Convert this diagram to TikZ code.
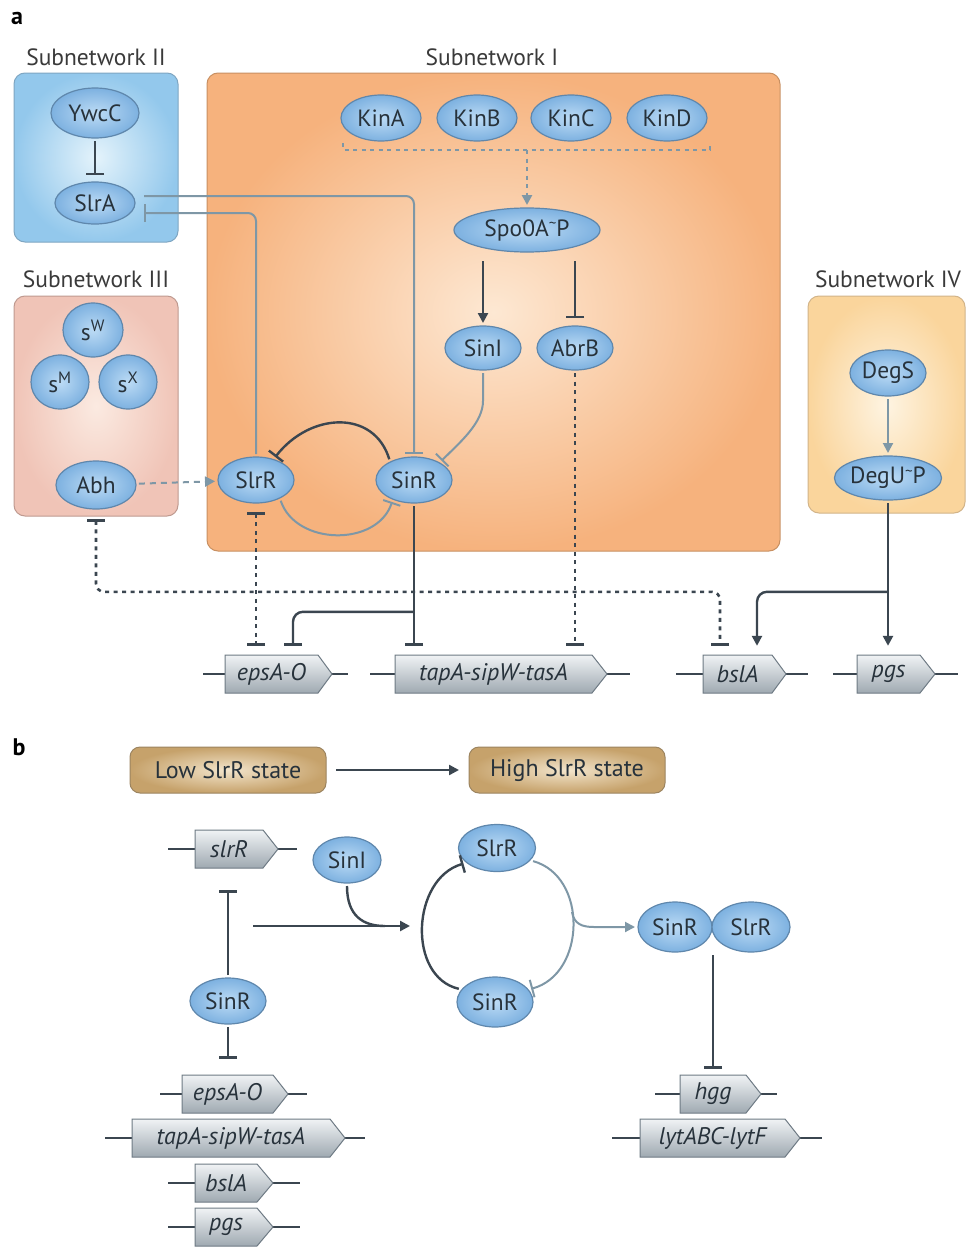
\documentclass[tikz,border=0pt]{standalone}
\usepackage{fontspec}
\setmainfont{PT Sans}
\usetikzlibrary{arrows.meta,shapes.geometric,calc}
\definecolor{dk}{HTML}{3B4650}
\definecolor{gb}{HTML}{7E97A6}
\definecolor{txt}{HTML}{27323B}
\definecolor{protout}{HTML}{7DB1E0}
\definecolor{protin}{HTML}{BCDBF5}
\definecolor{protb}{HTML}{5F87AC}
\definecolor{genetop}{HTML}{F0F3F5}
\definecolor{genebot}{HTML}{9FA9B1}
\definecolor{geneb}{HTML}{6E7A84}
\definecolor{blueout}{HTML}{93C8EC}
\definecolor{bluein}{HTML}{E4F3FB}
\definecolor{blueb}{HTML}{7FA6C2}
\definecolor{orout}{HTML}{F6B27D}
\definecolor{orin}{HTML}{FDE8D3}
\definecolor{orb}{HTML}{C89062}
\definecolor{pkout}{HTML}{F0C4B7}
\definecolor{pkin}{HTML}{FBEAE1}
\definecolor{pkb}{HTML}{BF9A90}
\definecolor{ylout}{HTML}{FAD59C}
\definecolor{ylin}{HTML}{FEF4E2}
\definecolor{ylb}{HTML}{D2B489}
\definecolor{tnout}{HTML}{C6A26B}
\definecolor{tnin}{HTML}{F3E5CC}
\definecolor{tnb}{HTML}{9C8460}
\definecolor{labc}{HTML}{3A3A3A}
\newcommand\tld{\raisebox{0.3em}{\fontsize{15}{15}\selectfont\textasciitilde}}
% name, x1, x2, yc, tip, lineL, lineR, text
\newcommand\genebox[8]{%
  \draw[geneline] (#6,#4) -- (#2,#4) (#5,#4) -- (#7,#4);
  \draw[geneshape] (#2,#4-19) -- (#3,#4-19) -- (#5,#4) -- (#3,#4+19) -- (#2,#4+19) -- cycle;
  \pgfmathsetmacro\gw{#3-#2}%
  \node[genetext, minimum width=\gw pt] (#1) at ({(#2+#3)/2},#4) {#8};
}
\begin{document}
\begin{tikzpicture}[x=1pt,y=-1pt,
  prot/.style={ellipse, draw=protb, line width=1.2pt, inner color=protin, outer color=protout,
    minimum width=#1, minimum height=46pt, inner sep=0pt, outer sep=3pt, text=txt,
    font=\fontsize{23.5}{23.5}\selectfont},
  prot/.default=76pt,
  subbox/.style n args={3}{draw=#3, line width=1pt, rounded corners=11pt, inner color=#2, outer color=#1, inner sep=0pt},
  sublabel/.style={text=labc, font=\fontsize{23.5}{23.5}\selectfont, inner sep=0pt},
  paneltag/.style={font=\fontsize{24}{24}\selectfont\bfseries, inner sep=0pt},
  genetext/.style={inner sep=0pt, minimum height=38pt, text=txt, font=\fontsize{24}{24}\selectfont\itshape},
  geneshape/.style={draw=geneb, line width=1pt, top color=genetop, bottom color=genebot},
  geneline/.style={draw=dk, line width=2pt},
  statebox/.style={draw=tnb, line width=1pt, rounded corners=10pt, inner color=tnin, outer color=tnout,
    minimum width=196pt, minimum height=46pt, text=txt, font=\fontsize{24}{24}\selectfont, outer sep=2pt},
  dkl/.style={draw=dk, line width=2.4pt},
  gbl/.style={draw=gb, line width=2pt},
  dotl/.style={line width=2.6pt, dash pattern=on 4pt off 4.5pt},
  dashl/.style={line width=2pt, dash pattern=on 6pt off 5pt},
  act/.style={-{Triangle[length=10pt,width=10pt]}},
  inh/.style={-{Bar[width=18pt]}},
  inhboth/.style={{Bar[width=18pt]}-{Bar[width=18pt]}},
]
\useasboundingbox (0,0) rectangle (966,1247);
\fill[white] (0,0) rectangle (966,1247);

% ---------- panel a ----------
\node[paneltag] (tagA) at (17,18) {a};
\node[paneltag] (tagB) at (19,747) {b};

\node[subbox={blueout}{bluein}{blueb}, minimum width=164pt, minimum height=169pt] (sub2) at (96,157.5) {};
\node[subbox={orout}{orin}{orb}, minimum width=573pt, minimum height=478pt] (sub1) at (493.5,312) {};
\node[subbox={pkout}{pkin}{pkb}, minimum width=164pt, minimum height=220pt] (sub3) at (96,406) {};
\node[subbox={ylout}{ylin}{ylb}, minimum width=157pt, minimum height=217pt] (sub4) at (886.5,404.5) {};

\node[sublabel] (lab2) at (96,57) {Subnetwork II};
\node[sublabel] (lab1) at (492,57) {Subnetwork I};
\node[sublabel] (lab3) at (96,279) {Subnetwork III};
\node[sublabel] (lab4) at (888,279) {Subnetwork IV};

\node[prot=88pt, minimum height=50pt] (ywcc) at (95,113) {YwcC};
\node[prot=80pt, minimum height=42pt] (slra) at (95,203) {SlrA};

\node[prot=80pt] (kina) at (381,118) {KinA};
\node[prot=80pt] (kinb) at (477,118) {KinB};
\node[prot=80pt] (kinc) at (571,118) {KinC};
\node[prot=80pt] (kind) at (667,118) {KinD};
\node[prot=146pt, minimum height=44pt] (spo) at (527,230) {Spo0A\tld P};
\node[prot=76pt, minimum height=44pt] (sini) at (483,348) {SinI};
\node[prot=76pt, minimum height=44pt] (abrb) at (575,348) {AbrB};
\node[prot] (slrr) at (256,480) {SlrR};
\node[prot] (sinr) at (414,480) {SinR};

\node[prot=60pt, minimum height=54pt] (sw) at (93,330) {s\textsuperscript{W}};
\node[prot=58pt, minimum height=54pt] (sm) at (60,382) {s\textsuperscript{M}};
\node[prot=58pt, minimum height=54pt] (sx) at (128,382) {s\textsuperscript{X}};
\node[prot=80pt, minimum height=48pt] (abh) at (96,485) {Abh};

\node[prot] (degs) at (888,373) {DegS};
\node[prot=96pt, minimum height=44pt] (degu) at (888,478) {DegU\tld P};

\genebox{eps}{225}{318}{674}{332}{203}{348}{epsA-O}
\genebox{tap}{395}{592}{674}{607}{370}{630}{tapA-sipW-tasA}
\genebox{bsl}{703}{772}{674}{786}{676}{808}{bslA}
\genebox{pgs}{857}{920}{674}{935}{833}{958}{pgs}

% connectors a
\draw[dkl, inh, shorten >=4pt] (ywcc) -- (slra);
\draw[gbl, inh, rounded corners=8pt] ([xshift=6pt,yshift=7pt]slra.east) -| (sinr.north);
\draw[gbl, inh, rounded corners=8pt] (slrr.north) |- ([xshift=6pt,yshift=-10pt]slra.east);

\coordinate (brL) at (343,150);
\coordinate (brR) at (710,150);
\coordinate (brM) at (527,150);
\draw[gbl, dotl] ([yshift=7pt]brL) -- (brL) -- (brR) -- ([yshift=7pt]brR);
\draw[gbl, dotl, act] (brM) -- (spo.north);

\draw[dkl, act, shorten <=6pt] (spo.south -| sini) -- (sini.north);
\draw[dkl, inh, shorten <=6pt, shorten >=5pt] (spo.south -| abrb) -- (abrb.north);
\draw[gbl, inh] (sini.south) -- ++(0,28) .. controls +(0,22) and +(18,-18) .. (sinr.35);

\draw[dkl, inh] (sinr.140) .. controls +(-15,-50) and +(35,-45) .. (slrr.50);
\draw[gbl, inh] (slrr.-40) .. controls +(15,45) and +(-15,45) .. (sinr.-135);

\draw[gbl, dashl, act] (abh) -- (slrr);
\draw[dk, dotl, inhboth, rounded corners=8pt] ([yshift=-7pt]abh.south) |- ([xshift=-17.5pt,yshift=63pt]bsl.north) -- ([xshift=-17.5pt,yshift=9pt]bsl.north);
\draw[dk, dotl, inhboth] ([yshift=-6pt]slrr.south) -- ([yshift=9pt]slrr |- eps.north);
\draw[dk, dotl, inh] (abrb.south) -- ([yshift=9pt]abrb |- tap.north);

\draw[dkl, inh] (sinr.south) -- ([yshift=9pt]sinr |- tap.north);
\draw[dkl, inh, rounded corners=10pt] ([yshift=43pt]sinr |- tap.north) -| ([xshift=21.5pt,yshift=9pt]eps.north);

\draw[gbl, act] (degs) -- (degu);
\draw[dkl, act] (degu.south) -- ([yshift=9pt]degu |- pgs.north);
\draw[dkl, act, rounded corners=10pt] ([yshift=63pt]degu |- pgs.north) -| ([xshift=19.5pt,yshift=9pt]bsl.north);

% ---------- panel b ----------
\node[statebox] (low) at (228,770) {Low SlrR state};
\node[statebox] (high) at (567,770) {High SlrR state};
\draw[dkl, act, shorten <=8pt, shorten >=8pt] (low) -- (high);

\genebox{slrg}{195}{263}{849}{278}{168}{297}{slrR}
\node[prot=68pt] (sinib) at (347,860) {SinI};
\node[prot] (sinrb) at (228,1001) {SinR};
\genebox{epsb}{182}{273}{1094}{288}{160}{307}{epsA-O}
\genebox{tapb}{132}{330}{1138}{345}{105}{365}{tapA-sipW-tasA}
\genebox{bslb}{195}{257}{1183}{273}{168}{300}{bslA}
\genebox{pgsb}{195}{257}{1227}{273}{168}{300}{pgs}

\draw[dkl, inh] (sinrb.north) -- ([yshift=-22pt]sinrb |- slrg.south);
\draw[dkl, inh] (sinrb.south) -- ([yshift=16pt]sinrb |- epsb.north);

\coordinate (hS) at (253,926);
\coordinate (hJ) at (385,926);
\coordinate (hE) at (410,926);
\draw[dkl, act] (hS) -- (hE);
\draw[dkl] (sinib.south) .. controls +(0,30) and +(-22,0) .. (hJ);

\node[prot=77pt, minimum height=47pt] (slrb) at (497,848) {SlrR};
\node[prot=76pt, minimum height=50pt] (sinrbot) at (495,1002) {SinR};
\draw[dkl, inh] (sinrbot.160) .. controls +(-52,-12) and +(-52,15) .. (slrb.205);
\draw[gbl, inh] (slrb.-20) .. controls +(55,15) and +(55,-15) .. (sinrbot.20);

\node[prot=74pt, minimum height=50pt] (sinrc) at (675,927) {SinR};
\node[prot=78pt, minimum height=50pt] (slrc) at (751,927) {SlrR};
\coordinate (amid) at (572,912);
\coordinate (abend) at (594,927);
\draw[gbl, act] (amid) .. controls +(2,12) and +(-12,0) .. (abend) -- (sinrc.west);

\genebox{hgg}{680}{746}{1094}{761}{655}{777}{hgg}
\genebox{lyt}{640}{785}{1138}{800}{612}{822}{lytABC-lytF}
\draw[dkl, inh] (hgg |- sinrc.south) -- ([yshift=6pt]hgg.north);
\end{tikzpicture}
\end{document}
